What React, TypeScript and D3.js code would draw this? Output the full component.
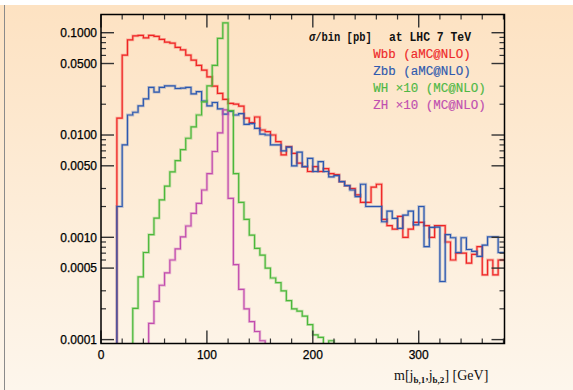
import React from 'react';
import * as d3 from 'd3';

const BIN = 5;

const wbbStart = 15;
const wbb = [
  0.0146, 0.0605, 0.085, 0.093, 0.094, 0.089, 0.094, 0.092, 0.086, 0.081,
  0.079, 0.072, 0.068, 0.0605, 0.054, 0.048, 0.043, 0.037, 0.030, 0.0255,
  0.0223, 0.0204, 0.020, 0.0192, 0.0146, 0.0132, 0.015, 0.0112, 0.0108, 0.010,
  0.0086, 0.0064, 0.0077, 0.0066, 0.0053, 0.0049, 0.0044, 0.0049, 0.0044, 0.0047,
  0.0042, 0.0041, 0.0035, 0.0032, 0.003, 0.0026, 0.0022, 0.0022, 0.0031, 0.0033,
  0.0015, 0.0013, 0.0012, 0.0016, 0.001, 0.0012, 0.0014, 0.0014, 0.0013, 0.001,
  0.0013, 0.0013, 0.0009, 0.0006, 0.0007, 0.0007, 0.00056, 0.00068, 0.00081, 0.00043,
  0.0006, 0.00043, 0.0006,
];

const zbbStart = 15;
const zbb = [
  0.0020, 0.0080, 0.0157, 0.0167, 0.0193, 0.0226, 0.0292, 0.0262, 0.0292, 0.0302,
  0.0302, 0.0285, 0.0287, 0.0292, 0.0252, 0.0265, 0.0215, 0.0193, 0.0208, 0.0180,
  0.0160, 0.0170, 0.0157, 0.0162, 0.0127, 0.0129, 0.0116, 0.0102, 0.0100, 0.0080,
  0.0080, 0.0070, 0.0076, 0.0050, 0.0068, 0.0049, 0.0059, 0.0044, 0.0055, 0.0044,
  0.0039, 0.0040, 0.0035, 0.0032, 0.0029, 0.0025, 0.0033, 0.0020, 0.0020, 0.0020,
  0.00142, 0.0018, 0.00153, 0.00122, 0.00165, 0.0018, 0.00132, 0.0020, 0.00081, 0.00125,
  0.00126, 0.00037, 0.00106, 0.00099, 0.00071, 0.00099, 0.00076, 0.00073, 0.00065, 0.00084,
  0.00101, 0.00101, 0.00071,
];

const whStart = 30;
const wh = [
  0.000202, 0.00041, 0.00071, 0.00106, 0.00154, 0.00232, 0.00316, 0.00437, 0.00562, 0.0072,
  0.0093, 0.0120, 0.0157, 0.0211, 0.0302, 0.048, 0.088, 0.125, 0.0173, 0.0042,
  0.0022, 0.0015, 0.00105, 0.00078, 0.00067, 0.0005, 0.0004, 0.00036, 0.0003, 0.00024,
  0.0002, 0.00019, 0.00017, 0.00014, 0.000111, 0.000105, 0.00006, 0.0000975,
];

const zhStart = 45;
const zh = [
  0.000144, 0.000236, 0.00034, 0.00045, 0.0006, 0.00077, 0.00101, 0.00129, 0.00171, 0.00215,
  0.0029, 0.0042, 0.0069, 0.0105, 0.0176, 0.0024, 0.00054, 0.00031, 0.0002, 0.00015,
  0.00012, 0.0000975,
];

const yMajor = [0.0001, 0.0005, 0.001, 0.005, 0.01, 0.05, 0.1];
const yMajorLabels = ['0.0001', '0.0005', '0.0010', '0.0050', '0.0100', '0.0500', '0.1000'];
const yMinorMult = [2, 3, 6, 7, 8, 9];
const yDecades = [0.0001, 0.001, 0.01, 0.1];
const xMajor = [0, 100, 200, 300];
const xMinorStep = 20;

const W = 573;
const H = 390;
const L = 101;
const R = 504.5;
const T = 14.5;
const B = 343.5;

const series = [
  { start: wbbStart, vals: wbb, color: '#f02424', close: false },
  { start: zbbStart, vals: zbb, color: '#2c58b0', close: false },
  { start: zhStart, vals: zh, color: '#c24cae', close: true },
  { start: whStart, vals: wh, color: '#4cb83a', close: true },
];

const legend = [
  { text: 'Wbb (aMC@NLO)', color: '#ee2a2a' },
  { text: 'Zbb (aMC@NLO)', color: '#2f5aae' },
  { text: 'WH \u00d710 (MC@NLO)', color: '#4fb845' },
  { text: 'ZH \u00d710 (MC@NLO)', color: '#c04fb0' },
];

const mono = "'Liberation Mono', monospace";

export default function App() {
  const x = d3.scaleLinear().domain([0, 381]).range([L, R]);
  const y = d3.scaleLog().domain([9.16e-5, 0.1507]).range([B, T]);
  const line = d3.line();
  const floor = 5e-5;

  const histPath = (start: number, vals: number[], close: boolean) => {
    const pts: [number, number][] = [[x(start), y(floor)]];
    vals.forEach((v, i) => {
      pts.push([x(start + i * BIN), y(v)]);
      pts.push([x(start + (i + 1) * BIN), y(v)]);
    });
    if (close) pts.push([x(start + vals.length * BIN), y(floor)]);
    else pts.push([x(start + vals.length * BIN + BIN), y(vals[vals.length - 1])]);
    return line(pts) || '';
  };

  const yMinor: number[] = [];
  yDecades.forEach((d) => {
    yMinorMult.forEach((m) => {
      const v = d * m;
      if (v >= 9.16e-5 && v <= 0.1507) yMinor.push(v);
    });
  });
  const xMinor: number[] = [];
  for (let v = xMinorStep; v < 381; v += xMinorStep) if (v % 100 !== 0) xMinor.push(v);

  const tickColor = '#333';

  return (
    <svg width={W} height={H} style={{ position: 'absolute', left: 0, top: 0 }}>
      <defs>
        <linearGradient id="bg" x1="0" y1="0" x2="0" y2="1">
          <stop offset="0" stopColor="#fde2c2" />
          <stop offset="1" stopColor="#fdf6ec" />
        </linearGradient>
        <clipPath id="plot">
          <rect x={L} y={T} width={R - L} height={B - T} />
        </clipPath>
      </defs>
      <rect x={0} y={0} width={W} height={H} fill="#ffffff" />
      <rect x={0} y={5} width={W} height={H - 5} fill="url(#bg)" />
      <line x1={4.5} x2={4.5} y1={5} y2={H} stroke="#8a8a8a" strokeWidth={1} />

      <g clipPath="url(#plot)">
        {series.map((s, i) => (
          <g key={i}>
            <path d={histPath(s.start, s.vals, s.close)} fill="none" stroke={s.color} strokeOpacity={0.3} strokeWidth={2.8} />
            <path d={histPath(s.start, s.vals, s.close)} fill="none" stroke={s.color} strokeWidth={1.2} />
          </g>
        ))}
      </g>

      {/* y ticks */}
      {yMajor.map((v, i) => (
        <g key={'ym' + i}>
          <line x1={L} x2={L + 13} y1={y(v)} y2={y(v)} stroke={tickColor} strokeWidth={1.4} />
          <line x1={R - 13} x2={R} y1={y(v)} y2={y(v)} stroke={tickColor} strokeWidth={1.4} />
          <text x={L - 4} y={y(v)} dy="0.36em" textAnchor="end" fontFamily="'Liberation Sans', Arial, sans-serif" fontSize={12} fill="#000" stroke="#000" strokeWidth={0.25}>
            {yMajorLabels[i]}
          </text>
        </g>
      ))}
      {yMinor.map((v, i) => (
        <g key={'yn' + i}>
          <line x1={L} x2={L + 5} y1={y(v)} y2={y(v)} stroke={tickColor} strokeWidth={1.2} />
          <line x1={R - 5} x2={R} y1={y(v)} y2={y(v)} stroke={tickColor} strokeWidth={1.2} />
        </g>
      ))}
      {/* x ticks */}
      {xMajor.map((v, i) => (
        <g key={'xm' + i}>
          <line x1={x(v)} x2={x(v)} y1={B} y2={B - 13} stroke={tickColor} strokeWidth={1.4} />
          <line x1={x(v)} x2={x(v)} y1={T} y2={T + 13} stroke={tickColor} strokeWidth={1.4} />
          <text x={x(v)} y={358.5} textAnchor="middle" fontFamily="'Liberation Sans', Arial, sans-serif" fontSize={12} fill="#000" stroke="#000" strokeWidth={0.25}>
            {v}
          </text>
        </g>
      ))}
      {xMinor.map((v, i) => (
        <g key={'xn' + i}>
          <line x1={x(v)} x2={x(v)} y1={B} y2={B - 5} stroke={tickColor} strokeWidth={1.2} />
          <line x1={x(v)} x2={x(v)} y1={T} y2={T + 5} stroke={tickColor} strokeWidth={1.2} />
        </g>
      ))}

      <rect x={L} y={T} width={R - L} height={B - T} fill="none" stroke="#000" strokeWidth={1.5} />

      {/* legend */}
      <text x={309} y={41} fontFamily={mono} fontSize={12} fontWeight="bold" fill="#111" textLength={62.7} lengthAdjust="spacingAndGlyphs">
        <tspan fontStyle="italic">σ</tspan>/bin [pb]
      </text>
      <text x={389} y={41} fontFamily={mono} fontSize={12} fontWeight="bold" fill="#111" textLength={82} lengthAdjust="spacingAndGlyphs">
        at LHC 7 TeV
      </text>
      {legend.map((d, i) => (
        <text key={i} x={373.3} y={57.8 + i * 17.2} fontFamily={mono} fontSize={12.5} fill={d.color} stroke={d.color} strokeWidth={0.15}>
          {d.text}
        </text>
      ))}

      {/* x label */}
      <text x={394} y={380} fontFamily="'Liberation Serif', serif" fontSize={14} fill="#111">
        m[j<tspan fontSize={9} fontWeight="bold" dy={3}>b,1</tspan>
        <tspan dy={-3}>,j</tspan>
        <tspan fontSize={9} fontWeight="bold" dy={3}>b,2</tspan>
        <tspan dy={-3}>] [GeV]</tspan>
      </text>
    </svg>
  );
}
